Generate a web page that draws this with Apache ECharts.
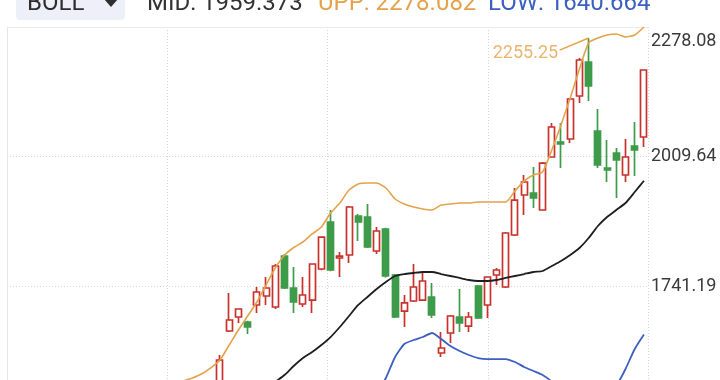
<!DOCTYPE html>
<html>
<head>
<meta charset="utf-8">
<script src="https://cdn.jsdelivr.net/npm/echarts@6/dist/echarts.min.js"></script>
<style>
  html, body { margin: 0; padding: 0; background: #fff; }
  #chart { width: 720px; height: 380px; }
</style>
</head>
<body>
<div id="chart"></div>
<script>
// x = candle slot; slots 0-3 only carry the upper band (their candles sit below the view)
const openVals = [null, null, null, null,
  1504.9, 1647.9, 1676.9, 1666.5, 1701.8, 1720.4, 1697.6, 1803.3, 1737.0, 1703.9, 1712.1, 1776.4,
  1873.8, 1799.2, 1805.4, 1886.3, 1884.2, 1813.7, 1859.3, 1764.0, 1689.3, 1710.1, 1712.1, 1718.4,
  1602.3, 1643.7, 1676.9, 1658.2, 1741.2, 1701.8, 1764.0, 1739.1, 1846.9, 1929.8, 1933.9, 1898.7,
  2008.6, 2039.7, 2045.9, 2135.0, 2205.5, 2062.5, 1985.8, 2016.9, 1971.3, 2031.4, 2050.1];
const closeVals = [null, null, null, null,
  1587.8, 1670.7, 1693.5, 1656.3, 1728.7, 1737.0, 1782.6, 1737.0, 1708.0, 1722.5, 1786.8, 1842.7,
  1774.3, 1803.3, 1904.9, 1873.8, 1822.0, 1855.2, 1761.9, 1676.9, 1706.0, 1739.1, 1751.5, 1681.1,
  1612.7, 1679.0, 1664.5, 1676.9, 1674.9, 1759.8, 1774.3, 1851.0, 1919.4, 1956.8, 1923.6, 1996.1,
  2070.8, 2035.5, 2128.8, 2209.7, 2155.8, 1992.0, 1981.7, 2002.4, 2008.6, 2023.1, 2188.9];
const lowVals = [null, null, null, null,
  1494.5, 1646.0, 1664.5, 1641.6, 1685.2, 1701.8, 1693.5, 1735.0, 1685.2, 1697.6, 1685.2, 1774.0,
  1772.0, 1759.8, 1788.9, 1834.5, 1820.0, 1807.5, 1759.0, 1675.0, 1656.2, 1708.0, 1710.0, 1674.9,
  1594.0, 1623.0, 1645.8, 1645.8, 1673.0, 1674.9, 1743.2, 1737.0, 1845.0, 1888.4, 1902.9, 1897.0,
  2007.0, 1985.8, 2037.6, 2120.5, 2124.7, 1985.8, 1956.8, 1923.6, 1956.8, 1969.2, 2029.3];
const highVals = [null, null, null, null,
  1598.1, 1726.6, 1695.0, 1669.0, 1739.1, 1759.8, 1786.8, 1807.5, 1780.5, 1759.8, 1788.5, 1844.5,
  1898.7, 1811.6, 1907.0, 1890.4, 1911.1, 1863.5, 1862.0, 1766.0, 1722.5, 1786.8, 1770.2, 1747.4,
  1645.8, 1681.0, 1734.9, 1687.3, 1743.0, 1761.0, 1778.5, 1853.0, 1944.3, 1971.3, 1987.9, 1998.0,
  2079.1, 2079.1, 2131.0, 2213.8, 2255.25, 2108.1, 2043.8, 2027.2, 2045.9, 2081.2, 2190.0];

const upperBand = [1544.2, 1550.5, 1558.8, 1571.4,
  1587.8, 1618.9, 1649.9, 1679.0, 1708.0, 1743.2, 1778.5, 1805.0, 1821.0, 1832.4, 1849.0, 1863.5,
  1892.5, 1913.2, 1940.2, 1952.6, 1954.7, 1954.7, 1944.3, 1921.5, 1911.1, 1904.9, 1900.8, 1898.7,
  1909.0, 1911.1, 1913.2, 1913.2, 1915.3, 1915.3, 1915.3, 1915.3, 1938.1, 1958.9, 1971.3, 1977.5,
  2023.1, 2074.9, 2130.9, 2191.0, 2244.9, 2255.3, 2261.5, 2263.6, 2257.3, 2261.5, 2278.08];
const midBand = [null, null, null, null,
  null, null, null, null, 1509.0, 1525.6, 1542.2, 1556.7, 1575.4, 1591.9, 1604.3, 1618.9,
  1635.4, 1656.2, 1679.0, 1701.8, 1718.4, 1735.0, 1749.4, 1761.9, 1766.0, 1768.1, 1770.2, 1770.2,
  1766.0, 1761.9, 1757.8, 1753.6, 1751.5, 1751.5, 1753.6, 1757.8, 1761.9, 1766.0, 1770.2, 1772.3,
  1782.6, 1793.0, 1805.4, 1819.9, 1840.6, 1865.6, 1884.2, 1898.7, 1913.2, 1936.0, 1959.37];
const lowerBand = [null, null, null, null,
  null, null, null, null, null, null, null, null, null, null, null, null,
  null, null, null, 1450.9, 1482.0, 1515.2, 1550.5, 1594.0, 1620.9, 1629.2, 1635.4, 1643.7,
  1631.3, 1616.8, 1606.4, 1598.1, 1591.9, 1589.8, 1589.8, 1589.8, 1583.6, 1573.3, 1565.0, 1556.7,
  1542.2, 1511.1, 1479.9, 1448.9, 1436.5, 1475.8, 1506.9, 1533.9, 1569.1, 1610.6, 1640.66];

const tickLabels = ['1741.19', '2009.64', '2278.08'];
const legendMid = '1959.373', legendUpp = '2278.082', legendLow = '1640.664';

const RED = '#c8322d', GREEN = '#3d9b4a';
const ORANGE = '#e4a24b', BLUE = '#3c5fc1', BLACK = '#1e1e1e';
const FONT = 'Roboto, "Noto Sans", sans-serif';

const candles = openVals
  .map((o, k) => (o == null ? null : [k, o, closeVals[k], lowVals[k], highVals[k]]))
  .filter(Boolean);
const band = (arr) => arr.map((v, k) => [k, v == null ? '-' : v]);

const peakValue = Math.max(...highVals.filter((v) => v != null));
const peakIndex = highVals.indexOf(peakValue);
// label sits a few slots left of and a little below the peak, joined by a short leader
const leaderFrom = [peakIndex - 3.15, peakValue - 25];

const chart = echarts.init(document.getElementById('chart'));

const dotted = { color: '#d6d6d6', width: 1, type: [1, 2] };

chart.setOption({
  animation: false,
  backgroundColor: '#fff',
  grid: { left: 7, right: 72, top: 27, bottom: -35.5, containLabel: false, outerBoundsMode: 'none' },
  xAxis: [
    {
      type: 'value', min: -19.11, max: 50.44, interval: 17.3875,
      axisLine: { show: false }, axisTick: { show: false }, axisLabel: { show: false },
      splitLine: { show: true, lineStyle: dotted }
    },
    {
      type: 'value', position: 'top', min: 0, max: 1,
      axisLine: { show: true, lineStyle: { color: '#ebebeb', width: 1 } },
      axisTick: { show: false }, axisLabel: { show: false }, splitLine: { show: false }
    }
  ],
  yAxis: [
    {
      type: 'value', position: 'right', min: 1472.73, max: 2278.08, interval: 268.45,
      axisLine: { show: false }, axisTick: { show: false },
      splitLine: { show: true, lineStyle: dotted },
      axisLabel: {
        margin: 3, fontFamily: FONT, fontSize: 18, color: '#3a3a3a',
        formatter: (v) => {
          const t = tickLabels.find((s) => Math.abs(+s - v) < 1);
          if (!t) return '';
          return t === tickLabels[tickLabels.length - 1] ? '{top|' + t + '}' : t;
        },
        rich: { top: { padding: [29, 0, 0, 0], fontFamily: FONT, fontSize: 18, color: '#3a3a3a' } }
      }
    },
    {
      type: 'value', position: 'left', min: 0, max: 1,
      axisLine: { show: true, lineStyle: { color: '#e6e6e6', width: 1 } },
      axisTick: { show: false }, axisLabel: { show: false }, splitLine: { show: false }
    }
  ],
  series: [
    {
      type: 'candlestick', xAxisIndex: 0, yAxisIndex: 0,
      data: candles, encode: { x: 0, y: [1, 2, 3, 4] },
      barWidth: 6.5,
      itemStyle: { color: '#ffffff', color0: GREEN, borderColor: RED, borderColor0: GREEN, borderWidth: 1.7 }
    },
    {
      type: 'line', xAxisIndex: 0, yAxisIndex: 0,
      data: [leaderFrom, [peakIndex, peakValue]],
      showSymbol: false, lineStyle: { color: ORANGE, width: 1.5 }
    },
    {
      type: 'line', xAxisIndex: 0, yAxisIndex: 0, data: band(upperBand), showSymbol: false, smooth: 0.2,
      lineStyle: { color: ORANGE, width: 1.6 }
    },
    {
      type: 'line', xAxisIndex: 0, yAxisIndex: 0, data: band(midBand), showSymbol: false, smooth: 0.2,
      lineStyle: { color: BLACK, width: 1.8 }
    },
    {
      type: 'line', xAxisIndex: 0, yAxisIndex: 0, data: band(lowerBand), showSymbol: false, smooth: 0.2,
      lineStyle: { color: BLUE, width: 1.8 }
    },
    {
      type: 'scatter', silent: true, z: 5, xAxisIndex: 0, yAxisIndex: 0,
      data: [[peakIndex, peakValue]],
      symbol: 'circle', symbolSize: 1, itemStyle: { color: 'rgba(0,0,0,0)' },
      label: {
        show: true, position: 'left', distance: 2,
        formatter: (p) => p.value[1].toFixed(2),
        fontFamily: FONT, fontSize: 18, color: ORANGE
      },
      labelLayout: { dx: -28, dy: 15 }
    }
  ],
  graphic: [
    { type: 'rect', shape: { x: 16, y: -10, width: 109, height: 30, r: 4 }, style: { fill: '#eef0f9' }, z: 10 },
    { type: 'text', x: 27, y: 4, z: 11, style: { text: 'BOLL', font: '24px ' + FONT, fill: '#2e2e2e', verticalAlign: 'middle' } },
    { type: 'polygon', z: 11, shape: { points: [[104, -1], [118, -1], [111, 7]] }, style: { fill: '#2e2e2e' } },
    { type: 'text', x: 147, y: 4, z: 11, style: { text: 'MID: ' + legendMid, font: '24px ' + FONT, fill: '#333', verticalAlign: 'middle' } },
    { type: 'text', x: 318, y: 4, z: 11, style: { text: 'UPP: ' + legendUpp, font: '24px ' + FONT, fill: ORANGE, verticalAlign: 'middle' } },
    { type: 'text', x: 488, y: 4, z: 11, style: { text: 'LOW: ' + legendLow, font: '24px ' + FONT, fill: BLUE, verticalAlign: 'middle' } }
  ]
});
</script>
</body>
</html>
